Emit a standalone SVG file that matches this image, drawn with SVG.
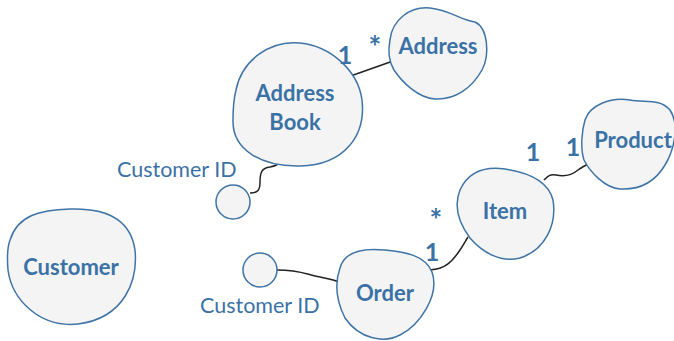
<svg xmlns="http://www.w3.org/2000/svg" width="674" height="341" viewBox="0 0 674 341">
<style>
.blob{fill:#f4f4f4;stroke:#3f74a6;stroke-width:1.5}
.lbl{font-family:Lato,"Open Sans","Liberation Sans",sans-serif;font-weight:bold;font-size:22px;fill:#3b72a6;text-anchor:middle}
.cid{font-family:Lato,"Open Sans","Liberation Sans",sans-serif;font-size:21.5px;fill:#3b72a6}
.mult{font-family:Lato,"Open Sans","Liberation Sans",sans-serif;font-weight:bold;font-size:25px;fill:#3b72a6;text-anchor:middle}
.star{font-size:30px}
.conn{fill:none;stroke:#222;stroke-width:1.5}
</style>
<g id="connectors">
<path class="conn" d="M345,78 L393,61"/>
<path class="conn" d="M250,193 C258,193 260,190 260,182 C260,172 262,168 270,167 C275,166 278,165 280,162"/>
<path class="conn" d="M277,270 C300,270 305,274 320,277 C330,279 335,280 339,282"/>
<path class="conn" d="M430,270 C445,269 452,262 460,250 C464,244 466,240 468,237"/>
<path class="conn" d="M544,180 C548,176 550,174 556,175 C565,177 572,175 578,170 C582,167 586,165 590,163"/>
</g>
<g id="address-book">
<path class="blob" d="M236,90 C242,60 270,40 300,43 C330,46 358,70 362,100 C366,135 345,165 300,166 C262,167 232,150 233,120 C233,108 234,98 236,90 Z"/>
<text class="lbl" x="295" y="101">Address</text>
<text class="lbl" x="295" y="130">Book</text>
</g>
<g id="address">
<path class="blob" d="M390,40 C392,20 410,6 430,8 C450,10 460,20 475,22 C488,28 490,55 482,70 C472,88 455,100 435,99 C418,98 402,82 394,70 C388,60 388,50 390,40 Z"/>
<text class="lbl" x="438" y="54">Address</text>
</g>
<g id="customer-id-1">
<circle class="blob" cx="233" cy="202" r="17"/>
<text class="cid" x="117" y="177">Customer ID</text>
</g>
<g id="customer">
<path class="blob" d="M10,240 C18,215 40,210 70,209 C100,208 130,215 135,250 C138,280 125,318 78,324 C40,328 12,300 8,270 C7,258 7,248 10,240 Z"/>
<text class="lbl" x="71" y="275">Customer</text>
</g>
<g id="customer-id-2">
<circle class="blob" cx="260" cy="270" r="17"/>
<text class="cid" x="200" y="313">Customer ID</text>
</g>
<g id="order">
<path class="blob" d="M340,268 C345,250 365,248 385,250 C405,252 425,255 432,272 C440,295 420,325 400,335 C385,343 360,340 345,318 C336,300 335,282 340,268 Z"/>
<text class="lbl" x="385" y="301">Order</text>
</g>
<g id="item">
<path class="blob" d="M460,190 C470,168 490,167 505,169 C525,172 548,180 553,200 C557,225 545,250 520,258 C500,263 482,252 470,238 C458,222 454,205 460,190 Z"/>
<text class="lbl" x="505" y="219">Item</text>
</g>
<g id="product">
<path class="blob" d="M585,120 C590,105 610,97 630,100 C645,103 660,98 670,110 C680,125 674,150 665,165 C655,182 640,190 620,189 C605,188 590,172 584,160 C580,148 582,130 585,120 Z"/>
<text class="lbl" x="633" y="148">Product</text>
</g>
<g id="multiplicities">
<text class="mult" x="345" y="64">1</text>
<text class="mult star" x="375" y="58">*</text>
<text class="mult" x="533" y="161">1</text>
<text class="mult" x="573" y="156">1</text>
<text class="mult star" x="436" y="231">*</text>
<text class="mult" x="432" y="261">1</text>
</g>
</svg>
